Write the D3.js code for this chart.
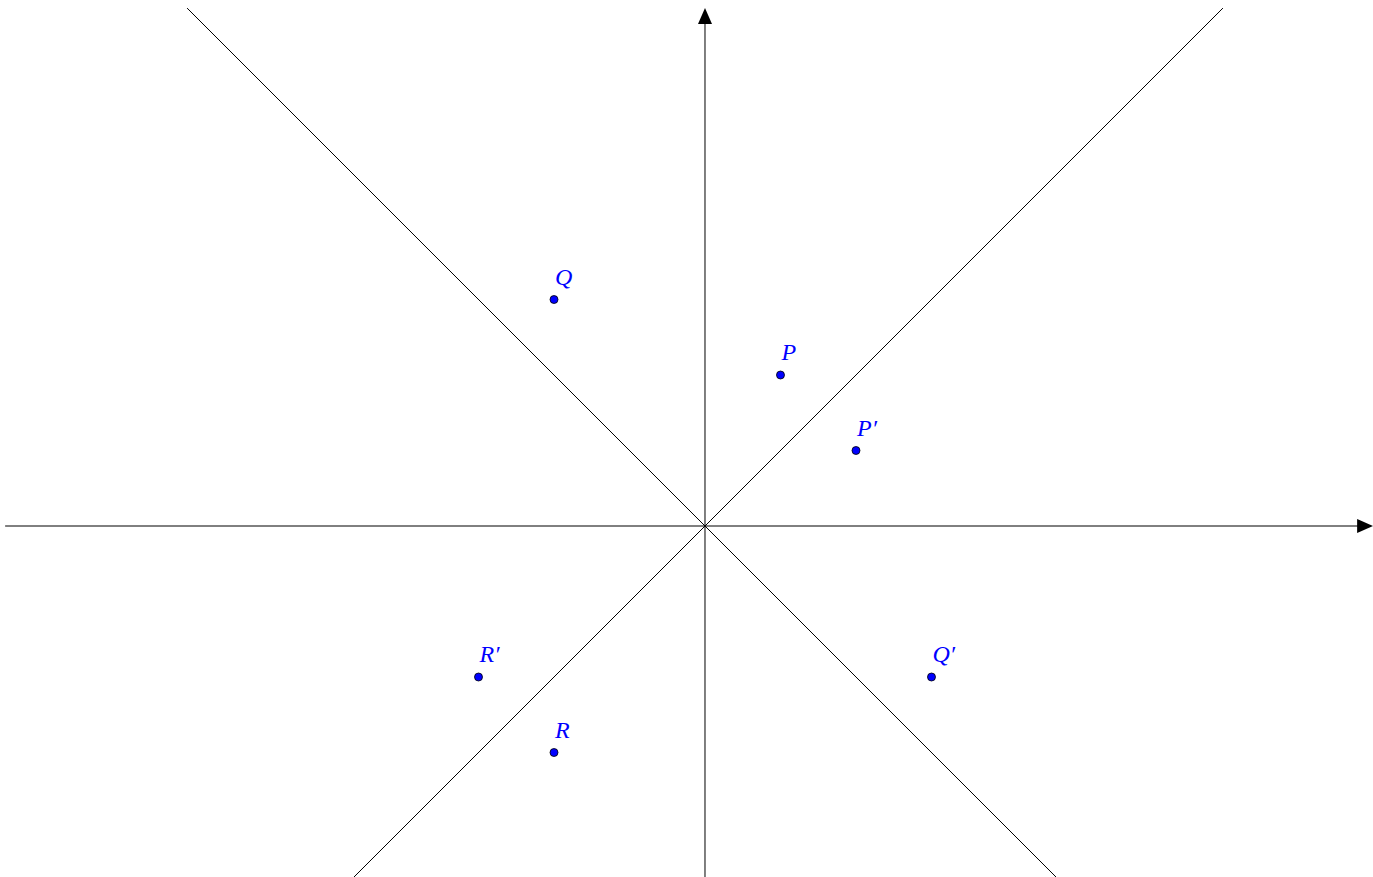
<!DOCTYPE html>
<html><head><meta charset="utf-8">
<script src="https://cdn.jsdelivr.net/npm/d3@7"></script>
<style>html,body{margin:0;padding:0;background:#fff;}svg{display:block;}</style>
</head><body>
<svg id="c" width="1373" height="877"></svg>
<script>
// Data
const pointNames = ["P", "P′", "Q", "Q′", "R′", "R"];
const pointX = [1, 2, -2, 3, -3, -2];
const pointY = [2, 1, 3, -2, -2, -3];
const xAxisExtent = [-9.27, 8.85];
const yAxisExtent = [-4.65, 6.86];
const lineSlopes = [1, -1];

const W = 1373, H = 877;
const x = d3.scaleLinear().domain([-9.338, 8.848]).range([0, W]);
const y = d3.scaleLinear().domain([6.967, -4.649]).range([0, H]);
const svg = d3.select("#c");

// diagonal lines, clipped to y extent
lineSlopes.forEach(m => {
  const xs = [yAxisExtent[0] / m, yAxisExtent[1] / m].sort((a, b) => a - b);
  svg.append("line")
    .attr("x1", x(xs[0])).attr("y1", y(m * xs[0]))
    .attr("x2", x(xs[1])).attr("y2", y(m * xs[1]))
    .attr("stroke", "#000").attr("stroke-width", 1);
});

// axes
const ah = 16, aw = 7;
const x0 = x(0), y0 = y(0);
const xEnd = x(xAxisExtent[1]), yEnd = y(yAxisExtent[1]);
svg.append("line").attr("x1", x(xAxisExtent[0])).attr("y1", y0)
  .attr("x2", xEnd - ah + 1).attr("y2", y0).attr("stroke", "#000").attr("stroke-width", 1);
svg.append("path").attr("d", `M${xEnd},${y0} L${xEnd - ah},${y0 - aw} L${xEnd - ah},${y0 + aw} Z`).attr("fill", "#000");
svg.append("line").attr("x1", x0).attr("y1", y(yAxisExtent[0]))
  .attr("x2", x0).attr("y2", yEnd + ah - 1).attr("stroke", "#000").attr("stroke-width", 1);
svg.append("path").attr("d", `M${x0},${yEnd} L${x0 - aw},${yEnd + ah} L${x0 + aw},${yEnd + ah} Z`).attr("fill", "#000");

// points
const pts = pointNames.map((n, i) => ({ n, x: pointX[i], y: pointY[i] }));
svg.selectAll("circle.pt").data(pts).enter().append("circle")
  .attr("class", "pt")
  .attr("cx", d => x(d.x)).attr("cy", d => y(d.y)).attr("r", 4)
  .attr("fill", "#0000ff").attr("stroke", "#000").attr("stroke-width", 0.8);
svg.selectAll("text.lb").data(pts).enter().append("text")
  .attr("class", "lb")
  .attr("x", d => x(d.x) + 1).attr("y", d => y(d.y) - 15)
  .attr("font-family", "'Liberation Serif', 'DejaVu Serif', serif")
  .attr("font-style", "italic").attr("font-size", 24)
  .attr("fill", "#0000ff")
  .text(d => d.n);
</script>
</body></html>
